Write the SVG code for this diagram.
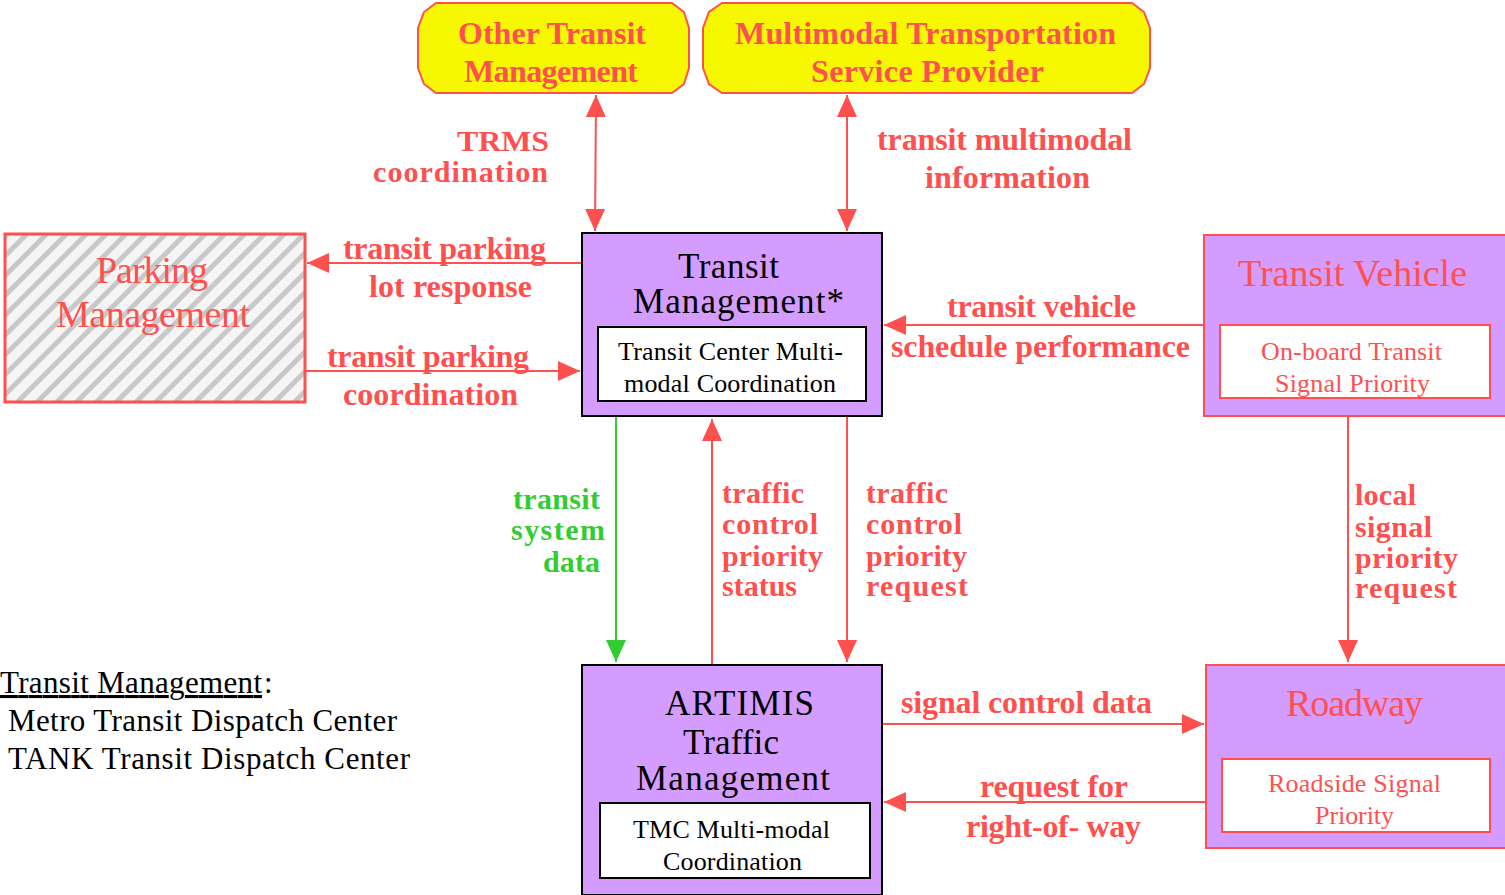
<svg xmlns="http://www.w3.org/2000/svg" width="1505" height="895" viewBox="0 0 1505 895">
<style>
.lbl{font-family:"Liberation Serif","Times New Roman",serif;font-weight:bold;font-size:32px;fill:#ff5050}
.stk{font-size:30px}
.grn{fill:#33cc33}
.ttl{font-family:"Liberation Serif","Times New Roman",serif;font-size:38px;fill:#000;text-anchor:middle}
.tt2{font-size:35px}
.sub{font-family:"Liberation Serif","Times New Roman",serif;font-size:26px;fill:#000;text-anchor:middle}
.red{fill:#ff5050}
.ext{font-family:"Liberation Serif","Times New Roman",serif;font-weight:bold;font-size:32px;fill:#ff5050;text-anchor:middle}
.leg{font-family:"Liberation Serif","Times New Roman",serif;font-size:31px;fill:#000}
.ln{stroke:#ff5050;stroke-width:2;fill:none}
.lg{stroke:#33cc33;stroke-width:2;fill:none}
</style>
<defs>
<marker id="ar" markerUnits="userSpaceOnUse" markerWidth="24" markerHeight="22" refX="22" refY="11" orient="auto-start-reverse" viewBox="0 0 24 22">
<path d="M0,1 L22,11 L0,21 Z" fill="#ff5050"/>
</marker>
<marker id="ag" markerUnits="userSpaceOnUse" markerWidth="24" markerHeight="22" refX="22" refY="11" orient="auto" viewBox="0 0 24 22">
<path d="M0,1 L22,11 L0,21 Z" fill="#33cc33"/>
</marker>
<pattern id="hatch" patternUnits="userSpaceOnUse" width="14" height="14" patternTransform="rotate(45)">
<rect width="14" height="14" fill="#f5f5f5"/>
<rect x="0" y="0" width="5" height="14" fill="#c8c8c8"/>
</pattern>
</defs>

<g id="connectors">
<line class="ln" x1="596" y1="95" x2="595" y2="231" marker-start="url(#ar)" marker-end="url(#ar)"/>
<line class="ln" x1="847" y1="95" x2="847" y2="231" marker-start="url(#ar)" marker-end="url(#ar)"/>
<line class="ln" x1="582" y1="263" x2="307" y2="263" marker-end="url(#ar)"/>
<line class="ln" x1="305" y1="371" x2="580" y2="371" marker-end="url(#ar)"/>
<line class="ln" x1="1204" y1="325" x2="884" y2="325" marker-end="url(#ar)"/>
<line class="lg" x1="616" y1="417" x2="616" y2="662" marker-end="url(#ag)"/>
<line class="ln" x1="712" y1="665" x2="712" y2="419" marker-end="url(#ar)"/>
<line class="ln" x1="847" y1="417" x2="847" y2="662" marker-end="url(#ar)"/>
<line class="ln" x1="1348" y1="417" x2="1348" y2="662" marker-end="url(#ar)"/>
<line class="ln" x1="883" y1="724" x2="1204" y2="724" marker-end="url(#ar)"/>
<line class="ln" x1="1206" y1="802" x2="884" y2="802" marker-end="url(#ar)"/>

<text class="lbl stk" x="457" y="151" textLength="92" lengthAdjust="spacingAndGlyphs">TRMS</text>
<text class="lbl stk" x="373" y="182" textLength="175">coordination</text>
<text class="lbl" x="877" y="150" textLength="255">transit multimodal</text>
<text class="lbl" x="925" y="188" textLength="165">information</text>
<text class="lbl" x="343" y="259" textLength="203">transit parking</text>
<text class="lbl" x="369" y="297" textLength="163">lot response</text>
<text class="lbl" x="327" y="367" textLength="202">transit parking</text>
<text class="lbl" x="343" y="405" textLength="175">coordination</text>
<text class="lbl" x="947" y="317" textLength="189">transit vehicle</text>
<text class="lbl" x="891" y="357" textLength="299">schedule performance</text>
<text class="lbl stk grn" x="513" y="509" textLength="87">transit</text>
<text class="lbl stk grn" x="511" y="540" textLength="94">system</text>
<text class="lbl stk grn" x="543" y="572" textLength="57">data</text>
<text class="lbl stk" x="722" y="503" textLength="82">traffic</text>
<text class="lbl stk" x="722" y="534" textLength="96">control</text>
<text class="lbl stk" x="722" y="566" textLength="101">priority</text>
<text class="lbl stk" x="722" y="596" textLength="75">status</text>
<text class="lbl stk" x="866" y="503" textLength="82">traffic</text>
<text class="lbl stk" x="866" y="534" textLength="96">control</text>
<text class="lbl stk" x="866" y="566" textLength="101">priority</text>
<text class="lbl stk" x="866" y="596" textLength="102">request</text>
<text class="lbl stk" x="1355" y="505" textLength="61">local</text>
<text class="lbl stk" x="1355" y="537" textLength="77">signal</text>
<text class="lbl stk" x="1355" y="568" textLength="103">priority</text>
<text class="lbl stk" x="1355" y="598" textLength="102">request</text>
<text class="lbl" x="901" y="713" textLength="251">signal control data</text>
<text class="lbl" x="980" y="797" textLength="148">request for</text>
<text class="lbl" x="966" y="837" textLength="175">right-of- way</text>
</g>

<g id="other-transit">
<path d="M436,3 L672,3 L684,12 L689,28 L689,68 L684,84 L672,93 L436,93 L424,84 L418,68 L418,28 L424,12 Z" fill="#f7f700" stroke="#ff5050" stroke-width="2"/>
<text class="ext" x="552" y="44" textLength="188">Other Transit</text>
<text class="ext" x="551" y="82" textLength="174">Management</text>
</g>

<g id="multimodal">
<path d="M722,3 L1132,3 L1144,12 L1150,28 L1150,68 L1144,84 L1132,93 L722,93 L709,84 L703,68 L703,28 L709,12 Z" fill="#f7f700" stroke="#ff5050" stroke-width="2"/>
<text class="ext" x="925.5" y="44" textLength="381">Multimodal Transportation</text>
<text class="ext" x="927.5" y="82" textLength="233">Service Provider</text>
</g>

<g id="parking">
<rect x="5" y="234" width="300" height="168" fill="url(#hatch)" stroke="#ff5050" stroke-width="3"/>
<text class="ttl red" x="152" y="283" textLength="112">Parking</text>
<text class="ttl red" x="153" y="327" textLength="194">Management</text>
</g>

<g id="transit-management">
<rect x="582" y="233" width="300" height="183" fill="#d59cff" stroke="#000" stroke-width="2"/>
<rect x="598" y="327" width="268" height="74" fill="#fff" stroke="#000" stroke-width="2"/>
<text class="ttl tt2" x="728.5" y="278" textLength="101">Transit</text>
<text class="ttl tt2" x="738.5" y="313" textLength="211">Management*</text>
<text class="sub" x="730.5" y="360" textLength="225">Transit Center Multi-</text>
<text class="sub" x="730" y="392" textLength="212">modal Coordination</text>
</g>

<g id="transit-vehicle">
<rect x="1204" y="235" width="305" height="181" fill="#d59cff" stroke="#ff5050" stroke-width="2"/>
<rect x="1220" y="325" width="270" height="73" fill="#fff" stroke="#ff5050" stroke-width="2"/>
<text class="ttl red" x="1352.5" y="286" textLength="229">Transit Vehicle</text>
<text class="sub red" x="1351.5" y="360" textLength="181">On-board Transit</text>
<text class="sub red" x="1352.5" y="392" textLength="155">Signal Priority</text>
</g>

<g id="artimis">
<rect x="582" y="665" width="300" height="230" fill="#d59cff" stroke="#000" stroke-width="2"/>
<rect x="600" y="803" width="270" height="75" fill="#fff" stroke="#000" stroke-width="2"/>
<text class="ttl tt2" x="739.5" y="715" textLength="149">ARTIMIS</text>
<text class="ttl tt2" x="731" y="754" textLength="96">Traffic</text>
<text class="ttl tt2" x="733" y="790" textLength="194">Management</text>
<text class="sub" x="731.5" y="838" textLength="197">TMC Multi-modal</text>
<text class="sub" x="732.5" y="870" textLength="139">Coordination</text>
</g>

<g id="roadway">
<rect x="1206" y="665" width="303" height="183" fill="#d59cff" stroke="#ff5050" stroke-width="2"/>
<rect x="1222" y="759" width="268" height="73" fill="#fff" stroke="#ff5050" stroke-width="2"/>
<text class="ttl red" x="1354.5" y="716" textLength="137">Roadway</text>
<text class="sub red" x="1354.5" y="792" textLength="173">Roadside Signal</text>
<text class="sub red" x="1354.5" y="824" textLength="79">Priority</text>
</g>

<g id="legend">
<text class="leg" x="0" y="693" textLength="262" text-decoration="underline">Transit Management</text>
<text class="leg" x="264" y="693">:</text>
<text class="leg" x="8" y="731" textLength="389">Metro Transit Dispatch Center</text>
<text class="leg" x="8" y="769" textLength="402">TANK Transit Dispatch Center</text>
</g>
</svg>
